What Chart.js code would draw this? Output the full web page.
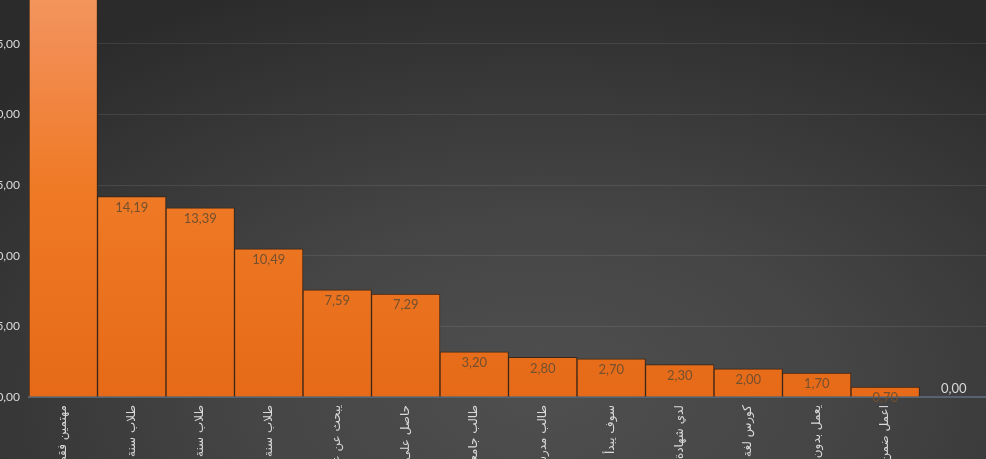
<!DOCTYPE html>
<html>
<head>
<meta charset="utf-8">
<script src="https://cdn.jsdelivr.net/npm/chart.js@4.4.1/dist/chart.umd.min.js"></script>
<style>
  html, body { margin: 0; padding: 0; background: #333; }
  #wrap {
    position: relative; width: 986px; height: 459px; overflow: hidden;
    background: radial-gradient(ellipse 75% 95% at 55% 85%, #4f4f4f 0%, #454545 40%, #2b2b2b 100%);
  }
  #box { position: absolute; left: -30px; top: -43px; width: 1040px; height: 540px; }
</style>
</head>
<body>
<div id="wrap">
  <div id="box"><canvas id="chart"></canvas></div>
</div>
<script>
'use strict';

var categories = [
  'مهتمين فقط',
  'طلاب سنة أولى',
  'طلاب سنة ثانية',
  'طلاب سنة ثالثة',
  'يبحث عن عمل',
  'حاصل على شهادة',
  'طالب جامعي',
  'طالب مدرسة',
  'سوف يبدأ العمل',
  'لدي شهادة دكتوراه',
  'كورس لغة انجليزية',
  'يعمل بدون شهادة',
  'اعمل ضمن فريق',
  ''
];
var values = [31.65, 14.19, 13.39, 10.49, 7.59, 7.29, 3.20, 2.80, 2.70, 2.30, 2.00, 1.70, 0.70, 0.00];
var yTicks = [0, 5, 10, 15, 20, 25, 30];

function fmt(v) {
  return v.toFixed(2).replace('.', ',');
}

function barGradient(context) {
  var chart = context.chart;
  var area = chart.chartArea;
  if (!area) return '#E8701C';
  var g = chart.ctx.createLinearGradient(0, area.top, 0, area.bottom);
  g.addColorStop(0, '#F39A62');
  g.addColorStop(0.15, '#F28E54');
  g.addColorStop(0.5, '#EF7A26');
  g.addColorStop(1, '#E66A18');
  return g;
}

// values drawn near the top of each bar
var valueLabels = {
  id: 'valueLabels',
  afterDatasetsDraw: function(chart) {
    var ctx = chart.ctx;
    var meta = chart.getDatasetMeta(0);
    ctx.save();
    ctx.font = '13px Lato, "Open Sans", sans-serif';
    ctx.textAlign = 'center';
    ctx.textBaseline = 'middle';
    meta.data.forEach(function(bar, i) {
      var v = values[i];
      if (v === 0) {
        ctx.fillStyle = '#d9d9d9';
        ctx.fillText(fmt(v), bar.x, bar.y - 8);
      } else {
        ctx.fillStyle = '#73502f';
        ctx.fillText(fmt(v), bar.x, bar.y + 11);
      }
    });
    ctx.restore();
  }
};

var chartConfig = {
  type: 'bar',
  data: {
    labels: categories,
    datasets: [{
      data: values,
      backgroundColor: barGradient,
      borderColor: '#3a2515',
      borderWidth: 1,
      barPercentage: 1,
      categoryPercentage: 1
    }]
  },
  options: {
    responsive: true,
    maintainAspectRatio: false,
    animation: false,
    layout: { padding: { top: 13, right: 22, left: 0, bottom: 0 } },
    plugins: {
      legend: { display: false },
      tooltip: { enabled: false }
    },
    scales: {
      x: {
        grid: { display: false, drawTicks: false },
        border: { display: true, color: '#556371', width: 2 },
        afterFit: function(scale) { scale.height = 100; },
        ticks: {
          autoSkip: false,
          minRotation: 90,
          maxRotation: 90,
          padding: 8,
          color: '#d9d9d9',
          font: { size: 12, family: '"DejaVu Sans", sans-serif' }
        }
      },
      y: {
        min: 0,
        max: 30,
        afterFit: function(scale) { scale.width = 59; },
        afterBuildTicks: function(scale) {
          scale.ticks = yTicks.map(function(v) { return { value: v }; });
        },
        grid: { color: 'rgba(255,255,255,0.09)', lineWidth: 1, drawTicks: false },
        border: { display: true, color: '#6a6a6a', width: 1 },
        ticks: {
          padding: 9,
          color: '#d9d9d9',
          font: { size: 12, family: 'Lato, "Open Sans", sans-serif' },
          callback: function(v) { return fmt(v); }
        }
      }
    }
  },
  plugins: [valueLabels]
};

var chartCtx = document.getElementById('chart').getContext('2d');
var barChart = new Chart(chartCtx, chartConfig);
</script>
</body>
</html>
